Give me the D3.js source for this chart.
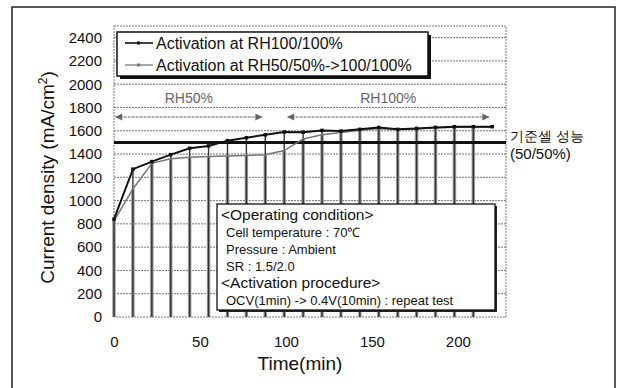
<!DOCTYPE html>
<html>
<head>
<meta charset="utf-8">
<script src="https://cdn.jsdelivr.net/npm/d3@7"></script>
<style>
  html, body { margin: 0; padding: 0; background: #fff; }
  svg { display: block; }
  text { font-family: "Liberation Sans", Arial, sans-serif; }
</style>
</head>
<body>
<svg id="chart" width="618" height="388"></svg>
<script>
// Activation time (min): one point per 11-min cycle (1 min OCV + 10 min at 0.4 V)
const times = [0, 11, 22, 33, 44, 55, 66, 77, 88, 99, 110, 121, 132, 143, 154, 165, 176, 187, 198, 209, 220];
// Current density (mA/cm2) at the end of each 0.4 V hold
const rh100 = [840, 1270, 1335, 1395, 1450, 1470, 1515, 1540, 1565, 1590, 1588, 1603, 1597, 1612, 1628, 1612, 1620, 1629, 1635, 1635, 1635];
const rh50to100 = [825, 1100, 1320, 1360, 1372, 1378, 1383, 1388, 1393, 1430, 1530, 1565, 1585, 1605, 1620, 1610, 1618, 1625, 1630, 1632, 1632];
// Cycles that drop to zero during the OCV step
const ocvTimes = [0, 11, 22, 33, 44, 55, 66, 77, 88, 99, 110, 121, 132, 143, 154, 165, 176, 187, 198, 209];
const baseline = 1500; // reference cell performance (50/50%)
const yTicks = [0, 200, 400, 600, 800, 1000, 1200, 1400, 1600, 1800, 2000, 2200, 2400];
const xTicks = [0, 50, 100, 150, 200];
const seriesNames = ["Activation at RH100/100%", "Activation at RH50/50%->100/100%"];
const infoLines = ["<Operating condition>", "Cell temperature : 70\u2103", "Pressure : Ambient", "SR : 1.5/2.0", "<Activation procedure>", "OCV(1min) -> 0.4V(10min) : repeat test"];

const svg = d3.select("#chart");
const W = 618, H = 388;
const pLeft = 114, pRight = 506, pTop = 26, pBottom = 317;

const x = d3.scaleLinear().domain([0, 228]).range([pLeft, pRight]);
const y = d3.scaleLinear().domain([0, 2500]).range([pBottom, pTop]);

svg.append("rect").attr("width", W).attr("height", H).attr("fill", "#fff");
// outer frame
svg.append("rect").attr("x", 12).attr("y", 7).attr("width", 603).attr("height", 400)
  .attr("fill", "none").attr("stroke", "#222").attr("stroke-width", 1.5);

// gridlines
const grid = svg.append("g");
grid.selectAll("line.h").data(yTicks.filter(d => d > 0)).join("line")
  .attr("x1", pLeft).attr("x2", pRight).attr("y1", d => y(d)).attr("y2", d => y(d))
  .attr("stroke", "#777").attr("stroke-width", 1).attr("stroke-dasharray", "2,1");
// plot border
grid.append("rect").attr("x", pLeft).attr("y", pTop).attr("width", pRight - pLeft).attr("height", pBottom - pTop)
  .attr("fill", "none").attr("stroke", "#777").attr("stroke-width", 1).attr("stroke-dasharray", "2,1");

// axes (labels only)
const yAxis = d3.axisLeft(y).tickValues(yTicks).tickFormat(d3.format("d")).tickSize(0).tickPadding(12);
const gy = svg.append("g").attr("transform", `translate(${pLeft},0)`).call(yAxis);
gy.select(".domain").remove();
gy.selectAll("text").attr("font-size", 15).attr("fill", "#111").attr("font-family", "Liberation Sans, Arial, sans-serif");

const xAxis = d3.axisBottom(x).tickValues(xTicks).tickFormat(d3.format("d")).tickSize(0).tickPadding(19);
const gx = svg.append("g").attr("transform", `translate(0,${pBottom})`).call(xAxis);
gx.select(".domain").remove();
gx.selectAll("text").attr("font-size", 15).attr("fill", "#111").attr("font-family", "Liberation Sans, Arial, sans-serif");

// axis titles
svg.append("text").attr("transform", `translate(54,${(pTop + pBottom) / 2 + 6}) rotate(-90)`)
  .attr("text-anchor", "middle").attr("font-size", 19).attr("fill", "#111")
  .call(t => {
    t.append("tspan").text("Current density (mA/cm");
    t.append("tspan").attr("baseline-shift", "super").attr("font-size", 12).text("2");
    t.append("tspan").text(")");
  });
svg.append("text").attr("x", 300).attr("y", 370).attr("text-anchor", "middle")
  .attr("font-size", 19).attr("fill", "#111").text("Time(min)");

// drop lines to zero at each OCV step
const drops = svg.append("g");
const dropData = ocvTimes.map(t => {
  const i = times.indexOf(t);
  return { t, a: rh100[i], b: rh50to100[i] };
});
drops.selectAll("line.g").data(dropData).join("line")
  .attr("x1", d => x(d.t)).attr("x2", d => x(d.t))
  .attr("y1", d => y(d.b)).attr("y2", y(0))
  .attr("stroke", "#9a9a9a").attr("stroke-width", 3.5);
drops.selectAll("line.k").data(dropData).join("line")
  .attr("x1", d => x(d.t)).attr("x2", d => x(d.t))
  .attr("y1", d => y(d.a)).attr("y2", y(0))
  .attr("stroke", "#333").attr("stroke-width", 1.4);

// reference line
svg.append("line").attr("x1", pLeft).attr("x2", pRight).attr("y1", y(baseline)).attr("y2", y(baseline))
  .attr("stroke", "#111").attr("stroke-width", 3);
svg.append("text").attr("x", 510).attr("y", 141).attr("font-size", 14).attr("fill", "#111")
  .attr("font-family", "Noto Sans CJK KR, sans-serif").text("기준셀 성능");
svg.append("text").attr("x", 510).attr("y", 159).attr("font-size", 15).attr("fill", "#111").text("(50/50%)");

// series lines
const line = d3.line().x((d, i) => x(times[i])).y(d => y(d));
svg.append("path").datum(rh50to100).attr("d", line).attr("fill", "none")
  .attr("stroke", "#777").attr("stroke-width", 1.5);
svg.append("path").datum(rh100).attr("d", line).attr("fill", "none")
  .attr("stroke", "#111").attr("stroke-width", 2);
svg.selectAll("rect.mk").data(rh100).join("rect").attr("class", "mk")
  .attr("x", (d, i) => x(times[i]) - 1.75).attr("y", d => y(d) - 1.75)
  .attr("width", 3.5).attr("height", 3.5).attr("fill", "#111");

// RH regions
const defs = svg.append("defs");
defs.append("marker").attr("id", "ah").attr("viewBox", "0 0 10 10").attr("refX", 9).attr("refY", 5)
  .attr("markerWidth", 7).attr("markerHeight", 6).attr("orient", "auto-start-reverse")
  .append("path").attr("d", "M0,0 L10,5 L0,10 Z").attr("fill", "#666");
const regions = [{ label: "RH50%", x0: 1, x1: 86 }, { label: "RH100%", x0: 101, x1: 218 }];
svg.selectAll("line.rg").data(regions).join("line")
  .attr("x1", d => x(d.x0)).attr("x2", d => x(d.x1)).attr("y1", 117).attr("y2", 117)
  .attr("stroke", "#666").attr("stroke-width", 1.2).attr("stroke-dasharray", "3,1")
  .attr("marker-start", "url(#ah)").attr("marker-end", "url(#ah)");
svg.selectAll("text.rg").data(regions).join("text")
  .attr("x", d => (x(d.x0) + x(d.x1)) / 2).attr("y", 103).attr("text-anchor", "middle")
  .attr("font-size", 14).attr("fill", "#666").text(d => d.label);

// legend
const lg = svg.append("g");
lg.append("rect").attr("x", 120).attr("y", 35).attr("width", 311).attr("height", 44).attr("fill", "#111");
lg.append("rect").attr("x", 117).attr("y", 32).attr("width", 311).attr("height", 44)
  .attr("fill", "#fff").attr("stroke", "#111").attr("stroke-width", 1.5);
const lgColors = ["#111", "#777"];
seriesNames.forEach((name, i) => {
  const yy = 43 + i * 22;
  lg.append("line").attr("x1", 125).attr("x2", 153).attr("y1", yy).attr("y2", yy)
    .attr("stroke", lgColors[i]).attr("stroke-width", i ? 1.3 : 1.6);
  lg.append("rect").attr("x", 137).attr("y", yy - 1.5).attr("width", 3).attr("height", 3).attr("fill", lgColors[i]);
  lg.append("text").attr("x", 156).attr("y", yy + 5.5).attr("font-size", 16).attr("fill", "#111").text(name);
});

// operating-condition box
const ib = svg.append("g");
ib.append("rect").attr("x", 219).attr("y", 206).attr("width", 278).attr("height", 106).attr("fill", "#222");
ib.append("rect").attr("x", 217).attr("y", 204).attr("width", 278).attr("height", 106)
  .attr("fill", "#fff").attr("stroke", "#111").attr("stroke-width", 1.3);
ib.selectAll("text").data(infoLines).join("text")
  .attr("x", (d, i) => (i === 0 || i === 4) ? 221 : 226)
  .attr("y", (d, i) => 220 + i * 17)
  .attr("font-size", (d, i) => (i === 0 || i === 4) ? 15.5 : 13)
  .attr("fill", "#111").text(d => d);
</script>
</body>
</html>
